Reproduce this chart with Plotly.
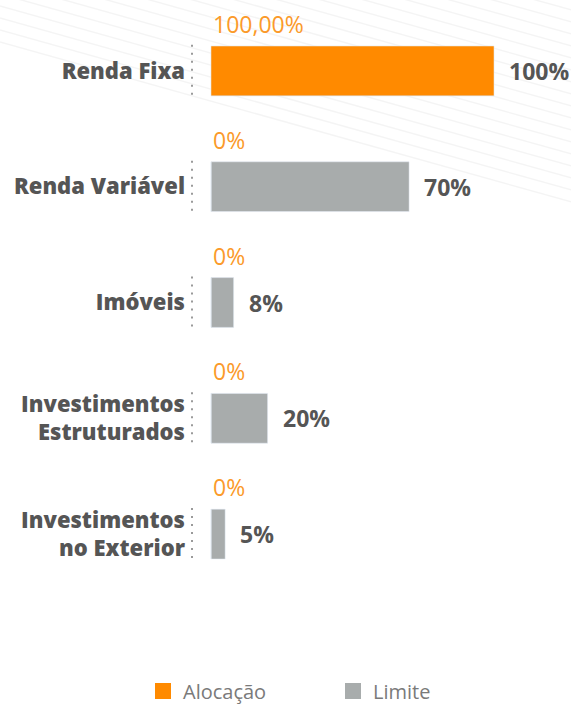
import plotly.graph_objects as go

categories = ["Renda Fixa", "Renda Variável", "Imóveis",
              "Investimentos<br>Estruturados", "Investimentos<br>no Exterior"]
limite = [100, 70, 8, 20, 5]
alocacao = [100, 0, 0, 0, 0]
alocacao_labels = ["100,00%", "0%", "0%", "0%", "0%"]
limite_labels = ["100%", "70%", "8%", "20%", "5%"]

ORANGE = "#ff8a00"
ORANGE_TXT = "#fb9a2a"
GRAY = "#a8acac"
DARK = "#555555"
FONT = "Open Sans"

# page geometry (px) for the plot area
W, H = 571, 707
L, R, T, B = 192, 0, 13, 115
PW, PH = W - L - R, H - T - B

fig = go.Figure()
fig.add_trace(go.Bar(y=categories, x=limite, orientation="h", name="Limite",
                     marker=dict(color=GRAY), width=0.43, showlegend=False,
                     hoverinfo="skip"))
fig.add_trace(go.Bar(y=categories, x=alocacao, orientation="h", name="Alocação",
                     marker=dict(color=ORANGE), width=0.43, showlegend=False,
                     hoverinfo="skip"))
# legend entries
fig.add_trace(go.Scatter(x=[None], y=[None], mode="markers", name="Alocação",
                         marker=dict(symbol="square", size=16, color=ORANGE)))
fig.add_trace(go.Scatter(x=[None], y=[None], mode="markers", name="Limite",
                         marker=dict(symbol="square", size=16, color=GRAY)))

annotations = []
shapes = []
for i, cat in enumerate(categories):
    annotations.append(dict(x=0, y=cat, xref="x", yref="y", text=alocacao_labels[i],
                            showarrow=False, xanchor="left", yanchor="middle",
                            yshift=47, xshift=0,
                            font=dict(family=FONT, size=23, color=ORANGE_TXT)))
    annotations.append(dict(x=limite[i], y=cat, xref="x", yref="y",
                            text="<b>" + limite_labels[i] + "</b>",
                            showarrow=False, xanchor="left", yanchor="middle",
                            xshift=13,
                            font=dict(family=FONT, size=23, color=DARK)))
    shapes.append(dict(type="line", xref="paper", yref="y", x0=0, x1=0,
                       y0=i - 0.225, y1=i + 0.225,
                       line=dict(color="#9a9a9a", width=2, dash="2px,6px")))

# faint decorative diagonal lines in the top-right background
def px2paper(px, py):
    return (px - L) / PW, (H - B - py) / PH

for k in range(17):
    yl = -150 + k * 12
    x0, y0 = px2paper(0, yl)
    x1, y1 = px2paper(W, yl + 0.28 * W)
    shapes.append(dict(type="line", xref="paper", yref="paper",
                       x0=x0, y0=y0, x1=x1, y1=y1, layer="below",
                       line=dict(color="rgba(0,0,0,0.045)", width=1.5)))

fig.update_layout(
    width=W, height=H,
    margin=dict(l=L, r=R, t=T, b=B, pad=0, autoexpand=False),
    paper_bgcolor="white", plot_bgcolor="rgba(0,0,0,0)",
    barmode="overlay",
    font=dict(family=FONT, color=DARK),
    xaxis=dict(range=[-19 / 2.83, (W - 211) / 2.83], visible=False, fixedrange=True),
    yaxis=dict(range=[len(categories) - 0.5, -0.5], showgrid=False, zeroline=False,
               showline=False, ticks="", ticklabelstandoff=6, fixedrange=True,
               tickfont=dict(family=FONT, size=22, color=DARK, weight=800)),
    legend=dict(orientation="h", x=(143 - L) / PW, xanchor="left",
                y=(H - B - 691) / PH, yanchor="middle",
                font=dict(family=FONT, size=20, color="#7a7a7a"),
                entrywidth=145, itemclick=False, itemdoubleclick=False),
    annotations=annotations,
    shapes=shapes,
)

fig.write_html("out.html", config={"displayModeBar": False},
               post_script="document.body.style.margin='0';document.body.style.overflow='hidden';")
